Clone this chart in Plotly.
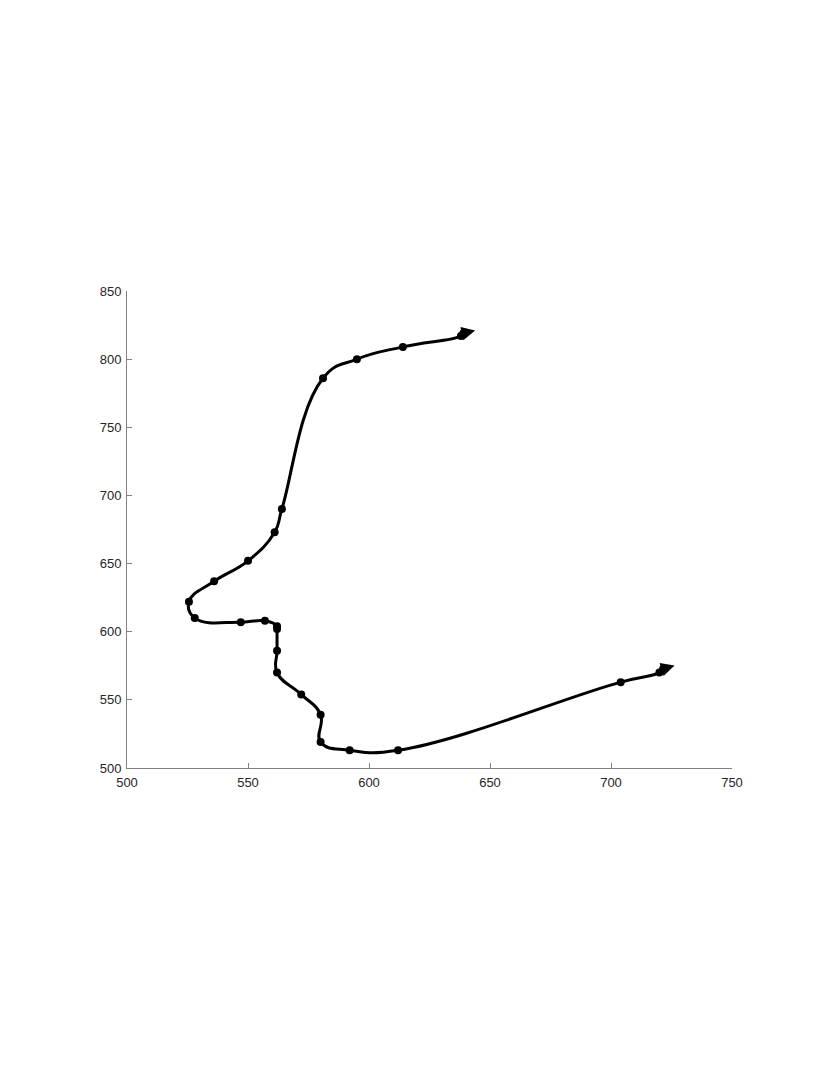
import math
import plotly.graph_objects as go

# Path points (data coordinates)
x_vals = [639, 638, 614, 595, 581, 564, 561, 550, 536, 525.6, 528, 547, 557, 562, 562, 562, 562,
          572, 580, 580, 592, 612, 704, 720, 721.5]
y_vals = [819, 817, 809, 800, 786, 690, 673, 652, 637, 622, 610, 607, 608, 604, 602, 586, 570,
          554, 539, 519, 513, 513, 563, 570, 572.6]

x_range = [500, 750]
y_range = [500, 850]
x_ticks = [500, 550, 600, 650, 700, 750]
y_ticks = [500, 550, 600, 650, 700, 750, 800, 850]

W, H = 830, 1075
ML, MR, MT, MB = 119, 106, 283, 315   # page body adds an 8px offset
px_per_x = (W - ML - MR) / (x_range[1] - x_range[0])
px_per_y = (H - MT - MB) / (y_range[1] - y_range[0])

fig = go.Figure()
fig.add_trace(go.Scatter(
    x=x_vals, y=y_vals, mode="lines+markers",
    line=dict(color="black", width=3, shape="spline", smoothing=1.3),
    marker=dict(color="black", size=8),
    showlegend=False, hoverinfo="skip",
))

# arrowheads at both ends of the path, oriented along the end direction
n = len(x_vals)
for i_end, i_ref in [(0, 2), (n - 1, n - 3)]:
    dx = (x_vals[i_end] - x_vals[i_ref]) * px_per_x
    dy = (y_vals[i_end] - y_vals[i_ref]) * px_per_y
    d = math.hypot(dx, dy)
    ux, uy = dx / d, dy / d
    tip, tail = 12, 16
    fig.add_annotation(
        x=x_vals[i_end], y=y_vals[i_end], xref="x", yref="y",
        axref="pixel", ayref="pixel", ax=-ux * tail, ay=uy * tail,
        xshift=ux * tip, yshift=uy * tip,
        showarrow=True, arrowhead=2, arrowsize=0.9, arrowwidth=3,
        arrowcolor="black", text="", standoff=0, startstandoff=0,
    )

axis_common = dict(showgrid=False, zeroline=False, showline=True, linecolor="#808080", linewidth=1,
                   ticks="inside", ticklen=5, tickcolor="#808080", tickwidth=1, automargin=False,
                   ticklabelstandoff=2,
                   tickfont=dict(family="Liberation Sans, Arial", size=13, color="#262626"))
fig.update_xaxes(range=x_range, tickvals=x_ticks, **axis_common)
fig.update_yaxes(range=y_range, tickvals=y_ticks, **axis_common)

fig.update_layout(width=W, height=H, plot_bgcolor="white", paper_bgcolor="white",
                  margin=dict(l=ML, r=MR, t=MT, b=MB))
fig.write_html("out.html")
